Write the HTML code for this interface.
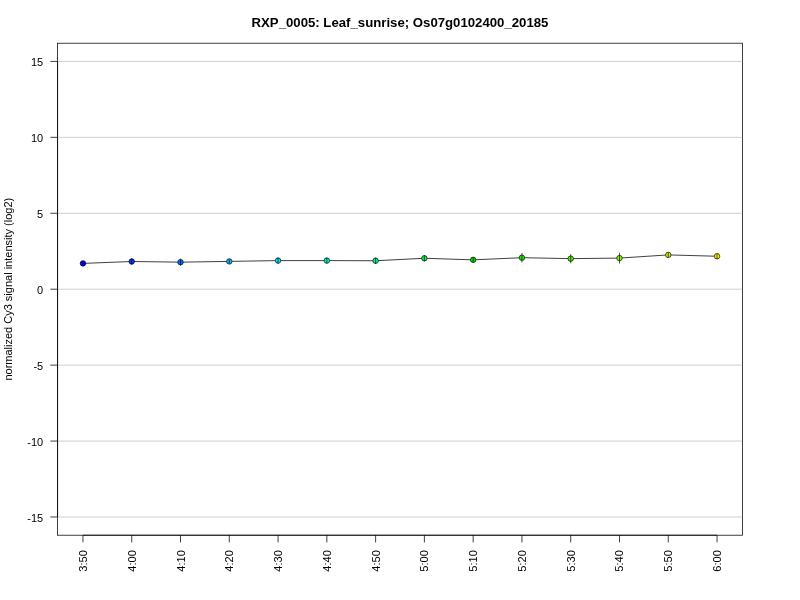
<!DOCTYPE html>
<html lang="en"><head><meta charset="utf-8"><title>RXP_0005: Leaf_sunrise; Os07g0102400_20185</title>
<style>html,body{margin:0;padding:0;background:#fff;overflow:hidden}svg{display:block}text{font-family:"Liberation Sans",sans-serif;fill:#000}</style></head><body>
<svg width="800" height="600" viewBox="0 0 800 600">
<rect width="800" height="600" fill="#fff"/>
<rect x="57.6" y="43.2" width="684.8" height="492" fill="none" stroke="#000" stroke-width="0.75"/>
<g stroke="#BEBEBE" stroke-width="0.75">
<line x1="57.6" x2="742.4" y1="516.98" y2="516.98"/>
<line x1="57.6" x2="742.4" y1="441.05" y2="441.05"/>
<line x1="57.6" x2="742.4" y1="365.13" y2="365.13"/>
<line x1="57.6" x2="742.4" y1="289.2" y2="289.2"/>
<line x1="57.6" x2="742.4" y1="213.27" y2="213.27"/>
<line x1="57.6" x2="742.4" y1="137.35" y2="137.35"/>
<line x1="57.6" x2="742.4" y1="61.42" y2="61.42"/>
</g>
<g stroke="#000" stroke-width="0.75" fill="none">
<line x1="57.6" x2="57.6" y1="61.42" y2="516.98"/>
<line x1="50.4" x2="57.6" y1="516.98" y2="516.98"/>
<line x1="50.4" x2="57.6" y1="441.05" y2="441.05"/>
<line x1="50.4" x2="57.6" y1="365.13" y2="365.13"/>
<line x1="50.4" x2="57.6" y1="289.2" y2="289.2"/>
<line x1="50.4" x2="57.6" y1="213.27" y2="213.27"/>
<line x1="50.4" x2="57.6" y1="137.35" y2="137.35"/>
<line x1="50.4" x2="57.6" y1="61.42" y2="61.42"/>
<line x1="82.96" x2="717.04" y1="535.2" y2="535.2"/>
<line x1="82.96" x2="82.96" y1="535.2" y2="542.4"/>
<line x1="131.74" x2="131.74" y1="535.2" y2="542.4"/>
<line x1="180.51" x2="180.51" y1="535.2" y2="542.4"/>
<line x1="229.29" x2="229.29" y1="535.2" y2="542.4"/>
<line x1="278.06" x2="278.06" y1="535.2" y2="542.4"/>
<line x1="326.84" x2="326.84" y1="535.2" y2="542.4"/>
<line x1="375.61" x2="375.61" y1="535.2" y2="542.4"/>
<line x1="424.39" x2="424.39" y1="535.2" y2="542.4"/>
<line x1="473.16" x2="473.16" y1="535.2" y2="542.4"/>
<line x1="521.94" x2="521.94" y1="535.2" y2="542.4"/>
<line x1="570.71" x2="570.71" y1="535.2" y2="542.4"/>
<line x1="619.49" x2="619.49" y1="535.2" y2="542.4"/>
<line x1="668.26" x2="668.26" y1="535.2" y2="542.4"/>
<line x1="717.04" x2="717.04" y1="535.2" y2="542.4"/>
</g>
<g font-size="11" text-anchor="end">
<text x="43.2" y="521.78">-15</text>
<text x="43.2" y="445.85">-10</text>
<text x="43.2" y="369.93">-5</text>
<text x="43.2" y="294">0</text>
<text x="43.2" y="218.07">5</text>
<text x="43.2" y="142.15">10</text>
<text x="43.2" y="66.22">15</text>
</g>
<g font-size="11" text-anchor="end" letter-spacing="0.12">
<text transform="translate(86.96,549.9) rotate(-90)">3:50</text>
<text transform="translate(135.74,549.9) rotate(-90)">4:00</text>
<text transform="translate(184.51,549.9) rotate(-90)">4:10</text>
<text transform="translate(233.29,549.9) rotate(-90)">4:20</text>
<text transform="translate(282.06,549.9) rotate(-90)">4:30</text>
<text transform="translate(330.84,549.9) rotate(-90)">4:40</text>
<text transform="translate(379.61,549.9) rotate(-90)">4:50</text>
<text transform="translate(428.39,549.9) rotate(-90)">5:00</text>
<text transform="translate(477.16,549.9) rotate(-90)">5:10</text>
<text transform="translate(525.94,549.9) rotate(-90)">5:20</text>
<text transform="translate(574.71,549.9) rotate(-90)">5:30</text>
<text transform="translate(623.49,549.9) rotate(-90)">5:40</text>
<text transform="translate(672.26,549.9) rotate(-90)">5:50</text>
<text transform="translate(721.04,549.9) rotate(-90)">6:00</text>
</g>
<text x="400" y="27" font-size="13.2" font-weight="bold" text-anchor="middle">RXP_0005: Leaf_sunrise; Os07g0102400_20185</text>
<text transform="translate(12,289.2) rotate(-90)" font-size="11" text-anchor="middle">normalized Cy3 signal intensity (log2)</text>
<polyline fill="none" stroke="#000" stroke-width="0.75" points="82.96,263.4 131.74,261.5 180.51,262.15 229.29,261.4 278.06,260.6 326.84,260.6 375.61,260.75 424.39,258.25 473.16,259.85 521.94,257.7 570.71,258.65 619.49,258.1 668.26,254.9 717.04,256.25"/>
<g stroke="#000" stroke-width="0.65">
<circle cx="82.96" cy="263.4" r="2.75" fill="#0000FF"/>
<circle cx="131.74" cy="261.5" r="2.75" fill="#0033FF"/>
<circle cx="180.51" cy="262.15" r="2.75" fill="#0070FF"/>
<circle cx="229.29" cy="261.4" r="2.75" fill="#1AB0FF"/>
<circle cx="278.06" cy="260.6" r="2.75" fill="#00E0F5"/>
<circle cx="326.84" cy="260.6" r="2.75" fill="#00F5C0"/>
<circle cx="375.61" cy="260.75" r="2.75" fill="#00F588"/>
<circle cx="424.39" cy="258.25" r="2.75" fill="#00F550"/>
<circle cx="473.16" cy="259.85" r="2.75" fill="#00E000"/>
<circle cx="521.94" cy="257.7" r="2.75" fill="#18F000"/>
<circle cx="570.71" cy="258.65" r="2.75" fill="#50F500"/>
<circle cx="619.49" cy="258.1" r="2.75" fill="#88F500"/>
<circle cx="668.26" cy="254.9" r="2.75" fill="#BBF500"/>
<circle cx="717.04" cy="256.25" r="2.75" fill="#F0F000"/>
<line x1="82.96" x2="82.96" y1="261.4" y2="265.4"/>
<line x1="131.74" x2="131.74" y1="258.2" y2="264.8"/>
<line x1="180.51" x2="180.51" y1="258.65" y2="265.65"/>
<line x1="229.29" x2="229.29" y1="259.4" y2="263.4"/>
<line x1="278.06" x2="278.06" y1="257.6" y2="263.6"/>
<line x1="326.84" x2="326.84" y1="257.6" y2="263.6"/>
<line x1="375.61" x2="375.61" y1="257.55" y2="263.95"/>
<line x1="424.39" x2="424.39" y1="255.15" y2="261.35"/>
<line x1="473.16" x2="473.16" y1="257.45" y2="262.25"/>
<line x1="521.94" x2="521.94" y1="252.95" y2="262.45"/>
<line x1="570.71" x2="570.71" y1="254.05" y2="263.25"/>
<line x1="619.49" x2="619.49" y1="252.7" y2="263.5"/>
<line x1="668.26" x2="668.26" y1="252.3" y2="257.5"/>
<line x1="717.04" x2="717.04" y1="253.65" y2="258.85"/>
</g>
</svg></body></html>
